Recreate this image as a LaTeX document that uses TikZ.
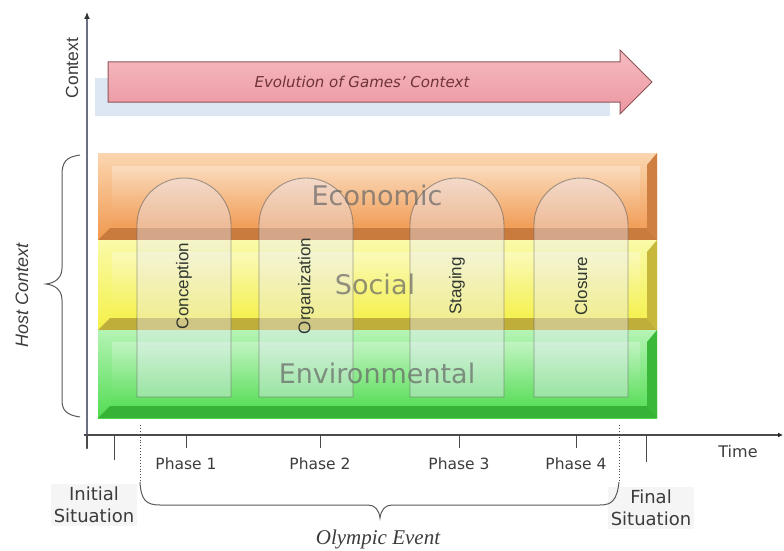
\documentclass[tikz,border=0pt]{standalone}
\usepackage{fontspec}
\setmainfont{DejaVu Sans}
\newfontfamily\arialf{Liberation Sans}
\newfontfamily\timesf{Liberation Serif}
\usetikzlibrary{arrows.meta}
\definecolor{axisgray}{HTML}{4A4A4A}
\definecolor{vaxis}{HTML}{6A7080}
\definecolor{shadowblue}{HTML}{DDE6F3}
\definecolor{arrowtop}{HTML}{F6BCC2}
\definecolor{arrowbot}{HTML}{EC96A0}
\definecolor{arrowline}{HTML}{8E5558}
\definecolor{evotext}{HTML}{6E3438}
\definecolor{ecoTop}{HTML}{FBD6B0}
\definecolor{ecoBot}{HTML}{F0984E}
\definecolor{ecoDark}{HTML}{C97B3E}
\definecolor{socTop}{HTML}{FAFAA8}
\definecolor{socBot}{HTML}{F4F048}
\definecolor{socDark}{HTML}{BFAE3A}
\definecolor{envTop}{HTML}{B4F4B4}
\definecolor{envBot}{HTML}{52DC52}
\definecolor{envDark}{HTML}{36B236}
\definecolor{archtext}{HTML}{303830}
\definecolor{labgray}{HTML}{3C3C3C}
\tikzset{
  axisline/.style={draw=axisgray, line width=1.2pt},
  axishl/.style={draw=gray!55, line width=2.6pt},
  tickmark/.style={draw=axisgray, line width=1pt},
  dotline/.style={draw=axisgray, line width=0.9pt, dotted},
  bracestyle/.style={draw=gray!70!black, line width=1pt},
  archbox/.style={draw=gray!70!black, draw opacity=0.55, line width=0.9pt, fill=blue!8!white, fill opacity=0.38},
  archlabel/.style={rotate=90, font=\arialf\fontsize{17}{20}\selectfont, text=archtext},
  bandlabel/.style={font=\fontsize{27}{32}\selectfont, text=black!60, text opacity=0.7},
  phaselabel/.style={font=\fontsize{15.5}{18}\selectfont, text=labgray},
  situation/.style={align=center, font=\fontsize{18}{22}\selectfont, text=labgray, fill=gray!8, inner sep=3pt}
}
\begin{document}
\begin{tikzpicture}[x=1pt,y=-1pt]
\useasboundingbox (0,0) rectangle (784,551);

% ---------- evolution arrow ----------
\fill[shadowblue] (95,78) rectangle (610,116);
\path[draw=arrowline, line width=1pt, top color=arrowtop, bottom color=arrowbot]
  (108,62) -- (620,62) -- (620,50) -- (652,82) -- (620,114) -- (620,102) -- (108,102) -- cycle;
\node[font=\itshape\fontsize{15}{18}\selectfont, text=evotext] (evo) at (362,82) {Evolution of Games' Context};

% ---------- bands ----------
% Economic
\path[top color=ecoTop, bottom color=ecoBot] (98,153) rectangle (657,240);
\path[top color=white, bottom color=ecoBot, opacity=0.3] (112,166) rectangle (640,226);
\fill[ecoDark] (98,240) -- (110,228) -- (647,228) -- (657,240) -- cycle;
\fill[ecoDark!85!ecoBot] (647,165) -- (657,153) -- (657,240) -- (647,228) -- cycle;
% Social
\path[top color=socTop, bottom color=socBot] (98,240) rectangle (657,330);
\path[top color=white, bottom color=socBot, opacity=0.3] (112,252) rectangle (640,316);
\fill[socDark] (98,330) -- (110,318) -- (647,318) -- (657,330) -- cycle;
\fill[socDark!85!socBot] (647,252) -- (657,240) -- (657,330) -- (647,318) -- cycle;
% Environmental
\path[top color=envTop, bottom color=envBot] (98,330) rectangle (657,418);
\path[top color=white, bottom color=envBot, opacity=0.3] (112,342) rectangle (640,405);
\fill[envDark] (98,418) -- (110,406) -- (647,406) -- (657,418) -- cycle;
\fill[envDark!85!envBot] (647,342) -- (657,330) -- (657,418) -- (647,406) -- cycle;

% ---------- phase arches ----------
\path[archbox] (137,397) -- (137,225) arc[start angle=180, end angle=0, radius=47pt] -- (231,397) -- cycle;
\path[archbox] (259,397) -- (259,225) arc[start angle=180, end angle=0, radius=47pt] -- (353,397) -- cycle;
\path[archbox] (410,397) -- (410,225) arc[start angle=180, end angle=0, radius=47pt] -- (504,397) -- cycle;
\path[archbox] (534,397) -- (534,225) arc[start angle=180, end angle=0, radius=47pt] -- (628,397) -- cycle;
\node[archlabel] (conc) at (184,286) {Conception};
\node[archlabel] (orga) at (306,286) {Organization};
\node[archlabel] (stag) at (457,286) {Staging};
\node[archlabel] (clos) at (581,286) {Closure};

% band labels
\node[bandlabel] (eco) at (377,195) {Economic};
\node[bandlabel] (soc) at (375,284) {Social};
\node[bandlabel] (env) at (377,373) {Environmental};

% ---------- axes ----------
\coordinate (vbot) at (87,449);
\coordinate (vtop) at (87,12);
\coordinate (hleft) at (84,435);
\coordinate (hright) at (783,435);
\draw[draw=vaxis, line width=1.2pt, -{Latex[length=7pt,width=6pt,color=black!80]}] (vbot) -- (vtop);
\draw[axishl] (84,435) -- (140,435);
\draw[axishl] (157,435) -- (213,435);
\draw[axishl] (293,435) -- (350,435);
\draw[axishl] (430,435) -- (487,435);
\draw[axishl] (548,435) -- (605,435);
\draw[axishl] (617,435) -- (675,435);
\draw[axisline, -{Latex[length=5pt,width=5pt,color=black!85]}] (hleft) -- (hright);
\node[rotate=90, font=\arialf\fontsize{17.5}{20}\selectfont, text=labgray] (ctx) at (72,68) {Context};
\node[rotate=90, font=\arialf\itshape\fontsize{18}{20}\selectfont, text=labgray] (host) at (22,295) {Host Context};
\node[font=\fontsize{16}{18}\selectfont, text=labgray] (time) at (738,452) {Time};

% ticks
\draw[tickmark, line width=2pt] (87,435) -- (87,448);
\draw[tickmark] (114,435) -- (114,460);
\draw[tickmark] (186,435) -- (186,448);
\draw[tickmark] (320,435) -- (320,448);
\draw[tickmark] (459,435) -- (459,448);
\draw[tickmark] (576,435) -- (576,448);
\draw[tickmark] (646,435) -- (646,462);
\coordinate (d1t) at (140,425);
\coordinate (d1b) at (140,482);
\coordinate (d2t) at (619,425);
\coordinate (d2b) at (619,482);
\draw[dotline] (d1t) -- (d1b);
\draw[dotline] (d2t) -- (d2b);

\node[phaselabel] (p1) at (186,464) {Phase 1};
\node[phaselabel] (p2) at (320,464) {Phase 2};
\node[phaselabel] (p3) at (459,464) {Phase 3};
\node[phaselabel] (p4) at (576,464) {Phase 4};

\node[situation] (init) at (94,505) {Initial\\Situation};
\node[situation] (final) at (651,508) {Final\\Situation};

% ---------- braces ----------
\draw[bracestyle] (80,155) .. controls (66,157) and (62,162) .. (62,175) -- (62,268)
  .. controls (62,278) and (55,283) .. (46,284) .. controls (55,285) and (62,290) .. (62,300)
  -- (62,400) .. controls (62,410) and (66,415) .. (80,417);
\draw[bracestyle] (d1b) .. controls (141,500) and (146,505) .. (160,505) -- (368,505)
  .. controls (375,505) and (379,510) .. (380,518) .. controls (381,510) and (385,505) .. (392,505)
  -- (600,505) .. controls (612,505) and (617,500) .. (d2b);
\node[font=\timesf\itshape\fontsize{21}{24}\selectfont, text=labgray] (oly) at (378,539) {Olympic Event};
\end{tikzpicture}
\end{document}
